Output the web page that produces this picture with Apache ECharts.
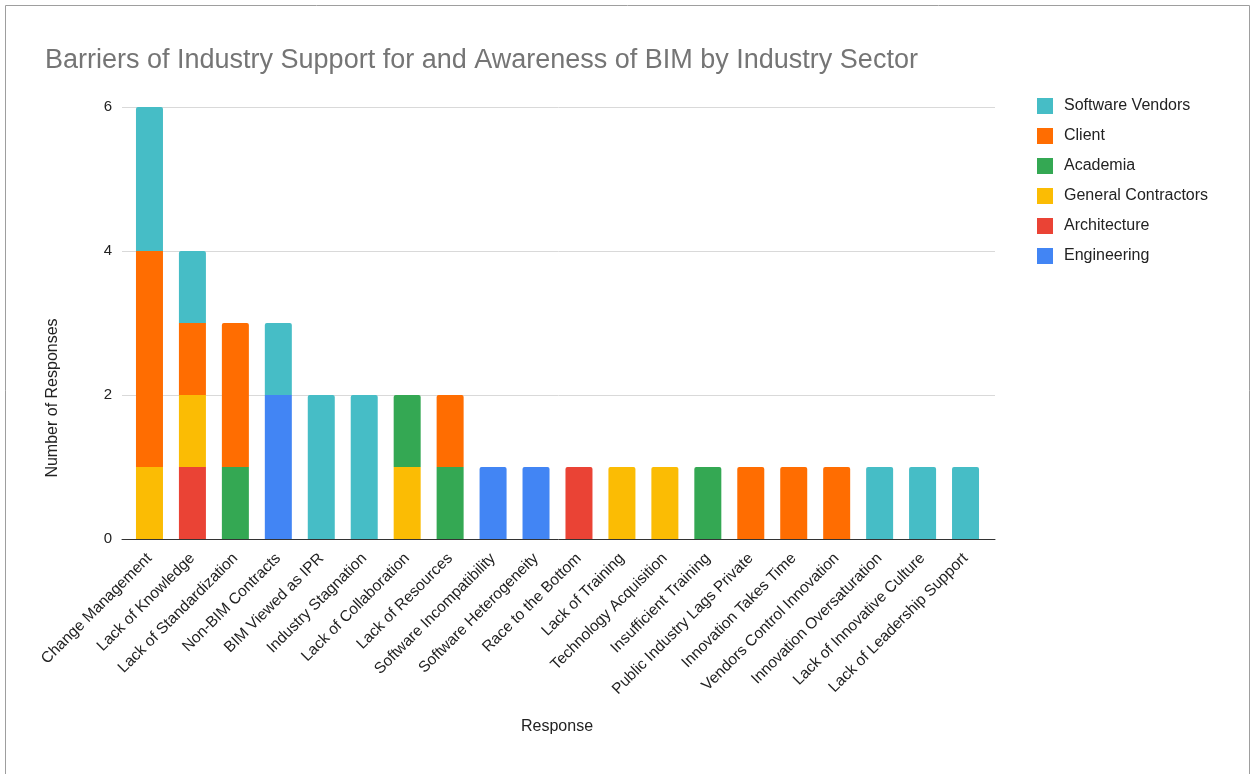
<!DOCTYPE html>
<html>
<head>
<meta charset="utf-8">
<style>
  html, body { margin: 0; padding: 0; background: #fff; }
  #chart { width: 1251px; height: 774px; }
</style>
<script src="https://cdn.jsdelivr.net/npm/echarts@6/dist/echarts.min.js"></script>
</head>
<body>
<div id="chart"></div>
<script>
// Barrier categories along the x axis
const categories = [
  'Change Management', 'Lack of Knowledge', 'Lack of Standardization', 'Non-BIM Contracts',
  'BIM Viewed as IPR', 'Industry Stagnation', 'Lack of Collaboration', 'Lack of Resources',
  'Software Incompatibility', 'Software Heterogeneity', 'Race to the Bottom', 'Lack of Training',
  'Technology Acquisition', 'Insufficient Training', 'Public Industry Lags Private',
  'Innovation Takes Time', 'Vendors Control Innovation', 'Innovation Oversaturation',
  'Lack of Innovative Culture', 'Lack of Leadership Support'
];

// Responses per industry sector (stacked bottom to top in this order)
const engineering        = [0, 0, 0, 2, 0, 0, 0, 0, 1, 1, 0, 0, 0, 0, 0, 0, 0, 0, 0, 0];
const architecture       = [0, 1, 0, 0, 0, 0, 0, 0, 0, 0, 1, 0, 0, 0, 0, 0, 0, 0, 0, 0];
const generalContractors = [1, 1, 0, 0, 0, 0, 1, 0, 0, 0, 0, 1, 1, 0, 0, 0, 0, 0, 0, 0];
const academia           = [0, 0, 1, 0, 0, 0, 1, 1, 0, 0, 0, 0, 0, 1, 0, 0, 0, 0, 0, 0];
const client             = [3, 1, 2, 0, 0, 0, 0, 1, 0, 0, 0, 0, 0, 0, 1, 1, 1, 0, 0, 0];
const softwareVendors    = [2, 1, 0, 1, 2, 2, 0, 0, 0, 0, 0, 0, 0, 0, 0, 0, 0, 1, 1, 1];

const yTicks = [0, 2, 4, 6];

const sectors = [
  { name: 'Engineering', data: engineering, color: '#4285f4' },
  { name: 'Architecture', data: architecture, color: '#ea4335' },
  { name: 'General Contractors', data: generalContractors, color: '#fbbc04' },
  { name: 'Academia', data: academia, color: '#34a853' },
  { name: 'Client', data: client, color: '#ff6d01' },
  { name: 'Software Vendors', data: softwareVendors, color: '#46bdc6' }
];

// Index of the topmost non-empty segment per category, for rounded caps
const topIndex = categories.map((_, i) => {
  let top = -1;
  sectors.forEach((s, k) => { if (s.data[i] > 0) top = k; });
  return top;
});

const series = sectors.map((s, k) => ({
  name: s.name,
  type: 'bar',
  stack: 'total',
  barWidth: 27,
  itemStyle: { color: s.color },
  emphasis: { disabled: true },
  data: s.data.map((v, i) => ({
    value: v === 0 ? '-' : v,
    itemStyle: topIndex[i] === k ? { borderRadius: [2, 2, 0, 0] } : { borderRadius: 0 }
  }))
}));

const chart = echarts.init(document.getElementById('chart'));
const font = 'Arial, "Liberation Sans", sans-serif';
const yMin = yTicks[0];
const yMax = yTicks[yTicks.length - 1];

chart.setOption({
  animation: false,
  textStyle: { fontFamily: font },
  title: {
    text: 'Barriers of Industry Support for and Awareness of BIM by Industry Sector',
    left: 40, top: 42,
    textStyle: { fontFamily: font, fontSize: 27, fontWeight: 'normal', color: '#757575' }
  },
  legend: {
    data: ['Software Vendors', 'Client', 'Academia', 'General Contractors', 'Architecture', 'Engineering'],
    orient: 'vertical',
    left: 1032, top: 93,
    itemWidth: 16, itemHeight: 16, itemGap: 14,
    icon: 'rect',
    textStyle: { fontFamily: font, fontSize: 16, color: '#222', padding: [0, 0, 0, 6] }
  },
  grid: [
    // bars
    { left: 128, right: 264, top: 107, bottom: 235, containLabel: false },
    // gridlines and baseline, slightly wider than the bar band
    { left: 122, right: 256, top: 107, bottom: 235, containLabel: false }
  ],
  xAxis: [
    {
      type: 'category', gridIndex: 0,
      data: categories,
      axisLine: { show: false },
      axisTick: { show: false },
      axisLabel: { rotate: 45, interval: 0, fontSize: 15.5, color: '#222', margin: 17 }
    },
    {
      type: 'value', gridIndex: 1, min: 0, max: 1,
      axisLine: { show: true, onZero: false, lineStyle: { color: '#333', width: 1 } },
      axisTick: { show: false }, axisLabel: { show: false }, splitLine: { show: false }
    }
  ],
  yAxis: [
    {
      type: 'value', gridIndex: 0,
      min: yMin, max: yMax, interval: 2,
      axisLine: { show: false },
      axisTick: { show: false },
      axisLabel: { fontSize: 15, color: '#222', margin: 16 },
      splitLine: { show: false }
    },
    {
      type: 'value', gridIndex: 1,
      min: yMin, max: yMax, interval: 2,
      axisLine: { show: false }, axisTick: { show: false }, axisLabel: { show: false },
      splitLine: { lineStyle: { color: '#d9d9d9' } }
    }
  ],
  series: series,
  graphic: [
    { type: 'rect', shape: { x: 5.5, y: 5.5, width: 1244, height: 800 },
      style: { fill: 'none', stroke: '#9e9e9e', lineWidth: 1 }, silent: true },
    { type: 'text', left: 521, top: 719,
      style: { text: 'Response', font: '16px ' + font, fill: '#222' } },
    { type: 'text', x: 45, y: 398, rotation: Math.PI / 2,
      style: { text: 'Number of Responses', font: '16px ' + font, fill: '#222',
               align: 'center', verticalAlign: 'top' } }
  ]
});
</script>
</body>
</html>
